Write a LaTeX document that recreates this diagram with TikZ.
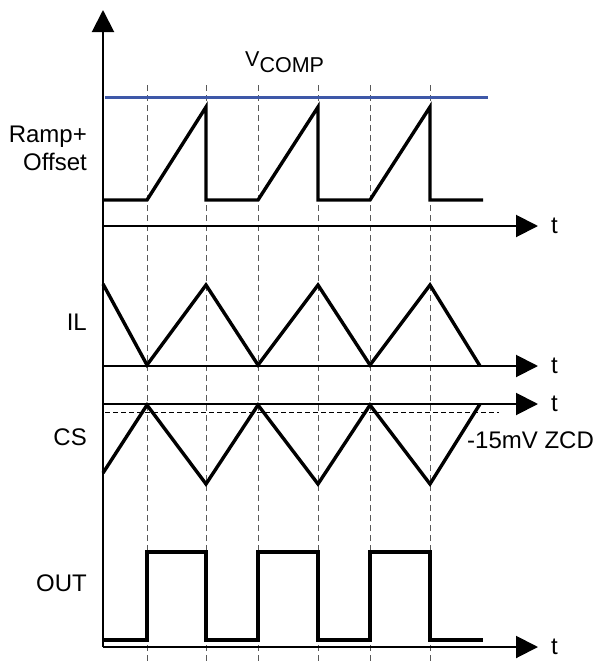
\documentclass[tikz,border=0pt]{standalone}
\usepackage{fontspec}
\setmainfont{Liberation Sans}
\usetikzlibrary{arrows.meta}
\definecolor{compblue}{RGB}{62,88,168}

\begin{document}
\begin{tikzpicture}[x=1pt, y=-1pt,
  axisline/.style={line width=2pt, -{Triangle[length=22pt,width=22pt]}},
  waveline/.style={line width=3.4pt},
  gridline/.style={gray!70!black, line width=0.9pt, dash pattern=on 6pt off 4pt},
  lbl/.style={font=\fontsize{24}{28}\selectfont, inner sep=0pt}]
  \useasboundingbox (0,0) rectangle (595,662);

  % Timing marks
  \foreach \x in {147,206,258,318,370,430}
    \draw[gridline] (\x,85) -- (\x,662);

  % Axes
  \coordinate (origin) at (103,647);
  \coordinate (ytop) at (103,10);
  \draw[axisline] (origin) -- (ytop);
  \foreach \name/\y in {ramp/226, il/366, cs/404, out/647} {
    \coordinate (\name0) at (103,\y);
    \coordinate (\name1) at (538,\y);
    \draw[axisline] (\name0) -- (\name1);
    \node[lbl, anchor=west] (\name t) at (551,\y) {t};
  }

  % Labels
  \node[lbl, anchor=east, align=right] (ramplbl) at (87,148) {Ramp+\\Offset};
  \node[lbl, anchor=east] (illbl) at (87,322) {IL};
  \node[lbl, anchor=east] (cslbl) at (87,437) {CS};
  \node[lbl, anchor=east] (outlbl) at (87,583) {OUT};
  \node[lbl, anchor=west] (zcdlbl) at (467,440) {-15mV ZCD};
  \node[lbl, anchor=base west, font=\fontsize{21.5}{26}\selectfont] (complbl) at (245,66)
    {V\raisebox{-6.5pt}{COMP}};

  % V_COMP level and ZCD threshold
  \draw[compblue, line width=3pt] (105,97) -- (488,97);
  \draw[line width=1pt, dash pattern=on 5pt off 3pt] (105,412) -- (499,412);

  % Ramp + offset
  \draw[waveline] (103,200) -- (147,200) -- (206,107) -- (206,200) -- (258,200)
    -- (318,107) -- (318,200) -- (370,200) -- (430,107) -- (430,200) -- (483,200);

  % Inductor current
  \draw[waveline] (103,284) -- (147,365) -- (206,285) -- (258,365) -- (318,285)
    -- (370,365) -- (430,285) -- (480,366);

  % Current sense
  \draw[waveline] (103,473) -- (147,405) -- (206,484) -- (258,405) -- (318,484)
    -- (370,405) -- (430,484) -- (480,404);

  % Output
  \draw[waveline] (103,640) -- (147,640) -- (147,552) -- (206,552) -- (206,640)
    -- (258,640) -- (258,552) -- (318,552) -- (318,640) -- (370,640) -- (370,552)
    -- (430,552) -- (430,640) -- (483,640);
\end{tikzpicture}
\end{document}
